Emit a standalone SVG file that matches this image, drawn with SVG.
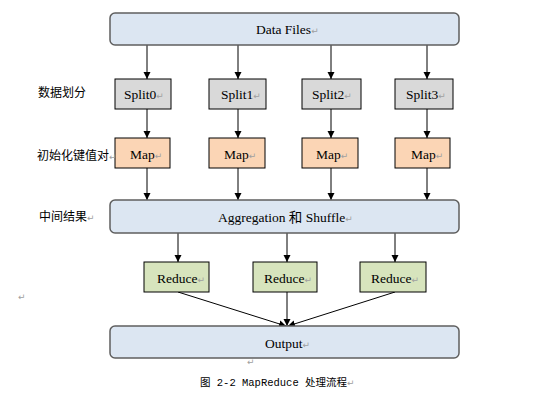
<svg xmlns="http://www.w3.org/2000/svg" width="559" height="401" viewBox="0 0 559 401">
<style>
.bar{fill:#dce6f2;stroke:#5f5f5f;stroke-width:1.5}
.split{fill:#d9d9d9;stroke:#000;stroke-width:1}
.map{fill:#fbd5b5;stroke:#000;stroke-width:1}
.red{fill:#d7e4bd;stroke:#000;stroke-width:1}
.t{font-family:"Liberation Serif","Noto Sans CJK SC",serif;font-size:13.5px;fill:#000}
.cn{font-family:"Noto Sans CJK SC","DejaVu Sans",sans-serif;font-size:12px;fill:#000}
.cap{font-family:"Liberation Mono","Noto Sans CJK SC",monospace;font-size:10.5px;fill:#000}
.rt{font-family:"DejaVu Sans",sans-serif;font-size:9px;fill:#a0a0a0}
.c{stroke:#000;stroke-width:1;fill:none;marker-end:url(#ah)}
</style>
<defs>
<marker id="ah" markerWidth="8" markerHeight="8" refX="7" refY="4" orient="auto" markerUnits="userSpaceOnUse">
<path d="M0,0.5 L7,4 L0,7.5 Z" fill="#000"/>
</marker>
</defs>
<rect width="559" height="401" fill="#fff"/>

<g id="connectors">
<line class="c" x1="147" y1="45" x2="147" y2="79"/>
<line class="c" x1="238" y1="45" x2="238" y2="79"/>
<line class="c" x1="331" y1="45" x2="331" y2="79"/>
<line class="c" x1="427" y1="45" x2="427" y2="79"/>
<line class="c" x1="147" y1="109" x2="147" y2="138"/>
<line class="c" x1="238" y1="109" x2="238" y2="138"/>
<line class="c" x1="331" y1="109" x2="331" y2="138"/>
<line class="c" x1="427" y1="109" x2="427" y2="138"/>
<line class="c" x1="147" y1="168" x2="147" y2="200"/>
<line class="c" x1="238" y1="168" x2="238" y2="200"/>
<line class="c" x1="331" y1="168" x2="331" y2="200"/>
<line class="c" x1="427" y1="168" x2="427" y2="200"/>
<line class="c" x1="178" y1="233" x2="178" y2="262"/>
<line class="c" x1="287" y1="233" x2="287" y2="262"/>
<line class="c" x1="395" y1="233" x2="395" y2="262"/>
<line class="c" x1="178" y1="292" x2="286" y2="326"/>
<line class="c" x1="287" y1="292" x2="287" y2="326"/>
<line class="c" x1="395" y1="292" x2="288" y2="326"/>
</g>

<g id="datafiles">
<rect class="bar" x="110" y="13" width="349" height="32" rx="5"/>
<text class="t" x="256" y="34">Data Files<tspan class="rt">↵</tspan></text>
</g>

<g id="split0"><rect class="split" x="115" y="79" width="56" height="30"/><text class="t" x="124" y="99">Split0<tspan class="rt">↵</tspan></text></g>
<g id="split1"><rect class="split" x="209" y="79" width="57" height="30"/><text class="t" x="221" y="99">Split1<tspan class="rt">↵</tspan></text></g>
<g id="split2"><rect class="split" x="302" y="79" width="59" height="30"/><text class="t" x="312" y="99">Split2<tspan class="rt">↵</tspan></text></g>
<g id="split3"><rect class="split" x="395" y="79" width="58" height="30"/><text class="t" x="406" y="99">Split3<tspan class="rt">↵</tspan></text></g>

<g id="map0"><rect class="map" x="115" y="138" width="55" height="30"/><text class="t" x="130" y="159">Map<tspan class="rt">↵</tspan></text></g>
<g id="map1"><rect class="map" x="209" y="138" width="56" height="30"/><text class="t" x="224" y="159">Map<tspan class="rt">↵</tspan></text></g>
<g id="map2"><rect class="map" x="302" y="138" width="56" height="30"/><text class="t" x="316" y="159">Map<tspan class="rt">↵</tspan></text></g>
<g id="map3"><rect class="map" x="395" y="138" width="55" height="30"/><text class="t" x="411" y="159">Map<tspan class="rt">↵</tspan></text></g>

<g id="aggregation">
<rect class="bar" x="110" y="200" width="349" height="33" rx="5"/>
<text class="t" x="218" y="222">Aggregation 和 Shuffle<tspan class="rt">↵</tspan></text>
</g>

<g id="reduce0"><rect class="red" x="144" y="262" width="65" height="30"/><text class="t" x="157" y="283">Reduce<tspan class="rt">↵</tspan></text></g>
<g id="reduce1"><rect class="red" x="253" y="262" width="64" height="30"/><text class="t" x="264" y="283">Reduce<tspan class="rt">↵</tspan></text></g>
<g id="reduce2"><rect class="red" x="360" y="262" width="66" height="30"/><text class="t" x="371" y="283">Reduce<tspan class="rt">↵</tspan></text></g>

<g id="output">
<rect class="bar" x="110" y="326" width="349" height="32" rx="5"/>
<text class="t" x="265" y="348">Output<tspan class="rt">↵</tspan></text>
</g>

<g id="labels">
<text class="cn" x="38" y="97">数据划分</text>
<text class="cn" x="37" y="160">初始化键值对<tspan class="rt">↵</tspan></text>
<text class="cn" x="39" y="221">中间结果<tspan class="rt">↵</tspan></text>
<text class="rt" x="18" y="300">↵</text>
<text class="rt" x="247" y="365">↵</text>
<text class="cap" x="200" y="386">图 2-2 MapReduce 处理流程<tspan class="rt">↵</tspan></text>
</g>
</svg>
